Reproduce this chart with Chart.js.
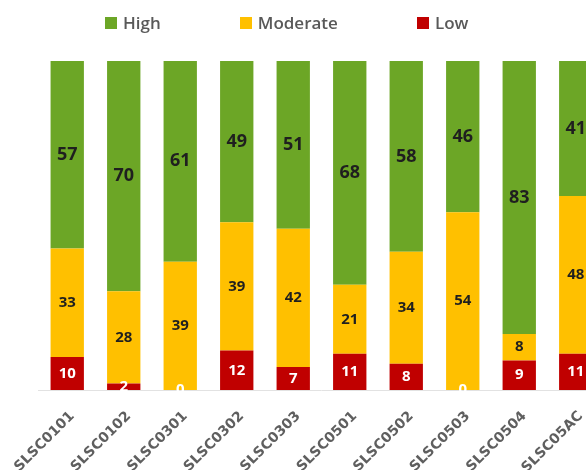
<!DOCTYPE html>
<html>
<head>
<meta charset="utf-8">
<script src="https://cdn.jsdelivr.net/npm/chart.js@4/dist/chart.umd.min.js"></script>
<style>
    html, body { margin: 0; padding: 0; background: #fff; overflow: hidden; }
    #wrap { position: absolute; left: 0; top: 0; width: 620px; height: 470px; }
    #legend {
        position: absolute; left: 105px; top: 11px;
        display: flex; align-items: center; gap: 79px;
        font-family: "Open Sans", sans-serif; font-weight: 600; font-size: 17px; color: #595959;
    }
    #legend span.item { display: flex; align-items: center; }
    #legend span.box { width: 12px; height: 12px; margin-right: 6px; display: inline-block; }
</style>
</head>
<body>
<div id="wrap">
    <canvas id="chart" width="620" height="470"></canvas>
    <div id="legend"></div>
</div>
<script>
// Dữ liệu biểu đồ
const categories = ['SLSC0101', 'SLSC0102', 'SLSC0301', 'SLSC0302', 'SLSC0303',
                    'SLSC0501', 'SLSC0502', 'SLSC0503', 'SLSC0504', 'SLSC05AC'];
const highValues = [57, 70, 61, 49, 51, 68, 58, 46, 83, 41];
const moderateValues = [33, 28, 39, 39, 42, 21, 34, 54, 8, 48];
const lowValues = [10, 2, 0, 12, 7, 11, 8, 0, 9, 11];
const seriesNames = ['High', 'Moderate', 'Low'];
const seriesColors = ['#6ca626', '#ffc000', '#c00000'];

// Nhãn giá trị giữa mỗi cột
const labelStyles = {
    High: { font: 'bold 18px "Open Sans", sans-serif', color: '#1f1f1f' },
    Moderate: { font: 'bold 15px "Open Sans", sans-serif', color: '#1f1f1f' },
    Low: { font: 'bold 15px "Open Sans", sans-serif', color: '#ffffff' }
};

const barLabels = {
    id: 'barLabels',
    afterDatasetsDraw(chart) {
        const ctx = chart.ctx;
        ctx.save();
        ctx.textAlign = 'center';
        ctx.textBaseline = 'middle';
        chart.data.datasets.forEach(function (ds, i) {
            const meta = chart.getDatasetMeta(i);
            const st = labelStyles[ds.label];
            ctx.font = st.font;
            ctx.fillStyle = st.color;
            meta.data.forEach(function (el, j) {
                const p = el.getProps(['x', 'y', 'base'], true);
                ctx.fillText(String(ds.data[j]), p.x, (p.y + p.base) / 2);
            });
        });
        ctx.restore();
    }
};

// Low ở dưới cùng, High ở trên cùng
const datasets = [lowValues, moderateValues, highValues].map(function (vals, k) {
    const i = 2 - k;
    return {
        label: seriesNames[i],
        data: vals,
        backgroundColor: seriesColors[i],
        barPercentage: 0.59,
        categoryPercentage: 1
    };
});

const chart = new Chart(document.getElementById('chart'), {
    type: 'bar',
    data: { labels: categories, datasets: datasets },
    options: {
        responsive: false,
        animation: false,
        layout: { padding: { top: 61, left: 37, right: 16, bottom: 0 } },
        plugins: { legend: { display: false }, tooltip: { enabled: false } },
        scales: {
            x: {
                stacked: true,
                grid: { display: false },
                border: { display: true, color: '#e2e2e2', width: 1 },
                ticks: {
                    minRotation: 45, maxRotation: 45, padding: 10, labelOffset: 5,
                    color: '#5f5f5f',
                    font: { family: 'DejaVu Sans', weight: 'bold', size: 14 }
                },
                afterFit: function (scale) { scale.height = 80; }
            },
            y: { stacked: true, display: false, min: 0, max: 100 }
        }
    },
    plugins: [barLabels]
});

// Chú giải HTML
const legendEl = document.getElementById('legend');
seriesNames.forEach(function (name, i) {
    const item = document.createElement('span');
    item.className = 'item';
    item.innerHTML = '<span class="box" style="background:' + seriesColors[i] + '"></span>' + name;
    legendEl.appendChild(item);
});
</script>
</body>
</html>
